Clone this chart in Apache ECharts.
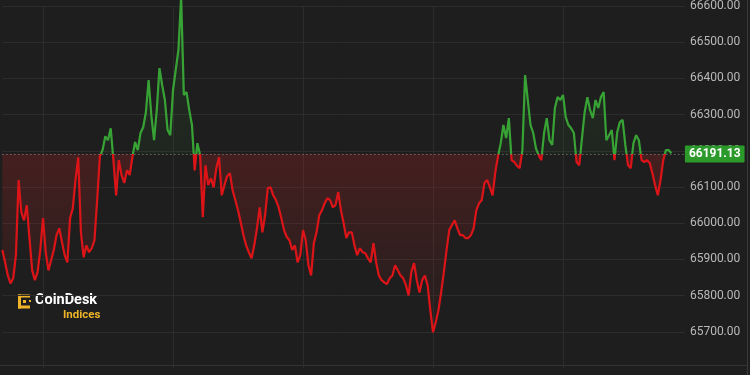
<!DOCTYPE html>
<html>
<head>
<meta charset="utf-8">
<script src="https://cdn.jsdelivr.net/npm/echarts@6/dist/echarts.min.js"></script>
<style>
html,body{margin:0;padding:0;background:#1e1e1e;}
#c{width:750px;height:375px;}
</style>
</head>
<body>
<div id="c"></div>
<script>
// ---- data ----
const BASE = 66191.13;
const baseLabel = '66191.13';
const prices = [
65926,65892,65856,65834,65848,65912,66119,66030,66008,66050,
65959,65870,65843,65865,65926,66014,65920,65870,65898,65926,
65967,65986,65948,65912,65892,66014,66041,66119,66182,65975,
65906,65939,65920,65931,65953,66064,66185,66202,66240,66229,
66262,66174,66077,66174,66133,66111,66146,66133,66182,66224,
66202,66249,66265,66307,66395,66298,66229,66312,66428,66381,
66340,66257,66243,66367,66423,66478,66624,66354,66362,66312,
66271,66146,66221,66188,66017,66160,66105,66124,66099,66152,
66182,66077,66105,66130,66138,66091,66064,66036,66003,65967,
65939,65920,65903,65939,65986,66044,65975,66022,66097,66099,
66077,66064,66044,66014,65981,65962,65953,65926,65939,65892,
65912,65981,65953,65884,65856,65945,65975,66022,66036,66055,
66069,66064,66044,66050,66086,66036,66000,65959,65975,65975,
65939,65912,65931,65920,65917,65903,65892,65945,65892,65856,
65843,65837,65832,65848,65856,65884,65870,65856,65848,65829,
65801,65865,65890,65843,65809,65843,65856,65829,65760,65699,
65727,65760,65809,65865,65926,65981,65995,66008,65986,65967,
65967,65959,65959,65967,65986,66036,66055,66064,66111,66119,
66099,66077,66141,66185,66221,66271,66235,66290,66174,66169,
66158,66152,66202,66409,66340,66271,66249,66207,66188,66174,
66249,66290,66229,66216,66318,66348,66340,66354,66293,66271,
66262,66249,66169,66160,66235,66307,66348,66312,66290,66340,
66318,66348,66362,66229,66243,66257,66174,66251,66279,66285,
66216,66160,66152,66221,66243,66229,66174,66169,66174,66166,
66138,66105,66077,66119,66174,66202,66202,66193
];
const categoryCount = 253;       // 5-minute slots across the visible pane
const firstGridIndex = 15;       // slot that falls on the first vertical gridline
const gridEvery = 48;            // 4 hours of 5-minute slots
const categories = [];
for (let i = 0; i < categoryCount; i++) {
  const m = (2 * 60 + 45) + i * 5;
  const h = Math.floor(m / 60) % 24, mm = m % 60;
  categories.push(String(h).padStart(2, '0') + ':' + String(mm).padStart(2, '0'));
}
const yMin = 65600, yMax = 66600, yStep = 100;

// ---- styles ----
const UP = '#38a335', DOWN = '#dc1418';
const chart = echarts.init(document.getElementById('c'), null, {renderer: 'canvas'});

function areaGradient(by) {
  const f = Math.max(0.01, Math.min(0.99, by / 375));
  return {
    type: 'linear', x: 0, y: 0, x2: 0, y2: 375, global: true,
    colorStops: [
      {offset: 0, color: 'rgba(60,170,60,0.15)'},
      {offset: f, color: 'rgba(60,170,60,0.05)'},
      {offset: f, color: 'rgba(210,35,35,0.22)'},
      {offset: 0.95, color: 'rgba(210,35,35,0.0)'}
    ]
  };
}

const option = {
  backgroundColor: '#1e1e1e',
  animation: false,
  textStyle: {fontFamily: 'Roboto, "Noto Sans", sans-serif'},
  grid: {left: 2.375, right: 65.1, top: 5.8, bottom: 6.8, containLabel: false, outerBoundsMode: 'none'},
  xAxis: {
    type: 'category', data: categories, boundaryGap: false,
    axisLine: {show: false}, axisTick: {show: false}, axisLabel: {show: false},
    splitLine: {show: true, interval: function (idx) { return idx >= firstGridIndex && (idx - firstGridIndex) % gridEvery === 0; },
      lineStyle: {color: '#2c2c2c', width: 1}}
  },
  yAxis: {
    type: 'value', position: 'right', min: yMin, max: yMax, interval: yStep, scale: true,
    axisLine: {show: false}, axisTick: {show: false},
    axisLabel: {color: '#b9b9b9', fontSize: 12, margin: 5, showMinLabel: false,
      formatter: function (v) { return v.toFixed(2); }},
    splitLine: {show: true, showMinLine: false, lineStyle: {color: '#2c2c2c', width: 1}}
  },
  visualMap: {
    show: false, type: 'piecewise', seriesIndex: 0, dimension: 1,
    pieces: [{gt: BASE, lte: 70000, color: UP}, {gt: 60000, lte: BASE, color: DOWN}]
  },
  graphic: [
    {type: 'line', silent: true, shape: {x1: 0, y1: 365.5, x2: 748, y2: 365.5}, style: {stroke: '#333', lineWidth: 1}},
    {type: 'line', silent: true, shape: {x1: 747.5, y1: 0, x2: 747.5, y2: 375}, style: {stroke: '#3a3a3a', lineWidth: 1}},
    {type: 'group', left: 18, top: 293, silent: true, children: [
      {type: 'rect', shape: {x: 0, y: 0, width: 3, height: 14}, style: {fill: '#f0b429'}},
      {type: 'rect', shape: {x: 0, y: 0, width: 12, height: 3}, style: {fill: '#f0b429'}},
      {type: 'rect', shape: {x: 0, y: 11, width: 12, height: 3}, style: {fill: '#f0b429'}},
      {type: 'rect', shape: {x: 5, y: 5.5, width: 3, height: 3}, style: {fill: '#f0b429'}},
      {type: 'rect', shape: {x: 11, y: 5.5, width: 2, height: 2}, style: {fill: '#f0b429'}},
      {type: 'text', x: 17, y: -1.5, style: {text: 'CoinDesk', fill: '#ffffff', font: 'bold 14.5px Roboto, "Noto Sans", sans-serif'}},
      {type: 'text', x: 45, y: 14.5, style: {text: 'Indices', fill: '#f0b429', font: 'bold 11.5px Roboto, "Noto Sans", sans-serif'}}
    ]}
  ],
  series: [{
    type: 'line', data: prices, symbol: 'none', showSymbol: false, clip: false,
    lineStyle: {width: 2.2},
    areaStyle: {origin: BASE, opacity: 1, color: areaGradient(154)},
    markLine: {
      silent: true, symbol: 'none', animation: false,
      data: [{yAxis: BASE}],
      lineStyle: {type: [1, 3], color: '#8e8e8e', width: 1},
      label: {
        show: true, position: 'end', distance: 0, formatter: baseLabel,
        color: '#ffffff', fontWeight: 'bold', fontSize: 12,
        backgroundColor: '#2b9a2b', padding: [3, 4, 2, 4], borderRadius: 1
      }
    }
  }]
};
chart.setOption(option);
const by = chart.convertToPixel({yAxisIndex: 0}, BASE);
chart.setOption({series: [{areaStyle: {origin: BASE, opacity: 1, color: areaGradient(by)}}]});
</script>
</body>
</html>
